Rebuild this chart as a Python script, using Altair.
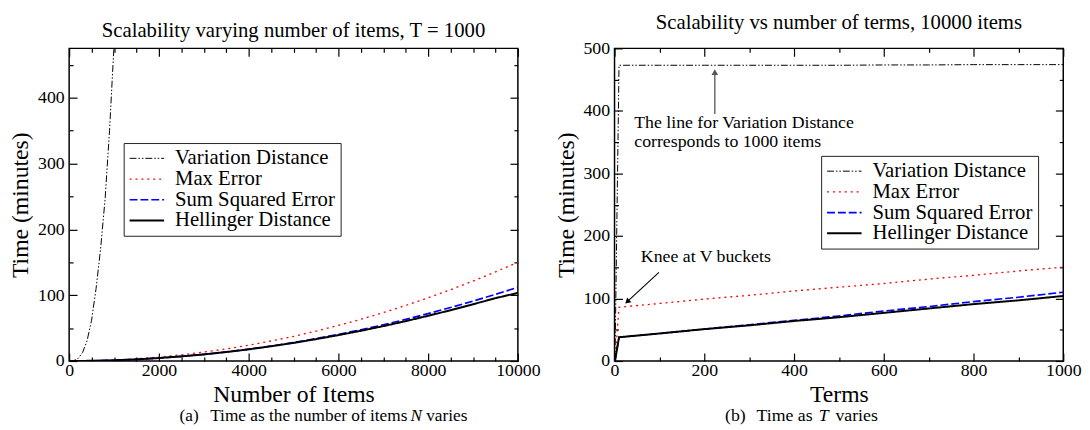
import altair as alt
import pandas as pd

FONT = "Liberation Serif"

SERIES = ["Variation Distance", "Max Error", "Sum Squared Error", "Hellinger Distance"]
SERIES_COLORS = ["#000000", "#ff0000", "#0000ff", "#000000"]
SERIES_DASHES = [[7, 2, 1.5, 2, 1.5, 2], [2, 4], [8, 3], [1, 0]]
SERIES_WIDTHS = [1.0, 2.0, 2.0, 1.2]

# ---------- panel (a): time vs number of items, T = 1000 ----------
items_n = [0, 500, 1000, 1500, 2000, 2500, 3000, 3500, 4000, 4500, 5000,
           5500, 6000, 6500, 7000, 7500, 8000, 8500, 9000, 9500, 10000]
max_err_a = [0, 0.4, 1.5, 3.4, 6.0, 9.4, 13.5, 18.4, 24.0, 30.4, 37.5,
             45.4, 54.0, 63.4, 73.5, 84.4, 96.0, 108.4, 121.5, 135.4, 150.0]
sse_a = [0, 0.3, 1.1, 2.5, 4.5, 7.0, 10.1, 13.8, 18.0, 22.8, 28.1,
         34.0, 40.4, 47.5, 55.0, 63.2, 72.0, 81.2, 91.0, 101.3, 112.0]
hell_a = [0, 0.3, 1.1, 2.5, 4.5, 7.0, 10.0, 13.6, 17.7, 22.4, 27.5,
          33.2, 39.3, 45.9, 53.0, 60.6, 68.7, 77.2, 86.2, 95.5, 103.5]
vd_items_n = [0, 100, 200, 300, 400, 500, 600, 700, 800, 900, 1000]
vd_a = [0, 0.5, 4, 13, 31, 62, 110, 170, 245, 350, 480]

# ---------- panel (b): time vs number of terms, 10000 items ----------
terms_t = [1, 10, 100, 200, 300, 400, 500, 600, 700, 800, 900, 1000]
vd_b = [0, 473, 473, 473, 473, 473, 473, 473.5, 473.5, 474, 474, 474]
max_err_b = [0, 86, 92, 99, 105, 112, 118, 124, 131, 137, 144, 150]
sse_b = [0, 38, 44, 51, 58, 65, 72, 80, 87, 95, 102, 110]
hell_b = [0, 38, 44, 51, 57, 64, 70, 77, 84, 91, 97, 104]

# tick values
a_x_major = [0, 2000, 4000, 6000, 8000, 10000]
a_x_minor = [500, 1000, 1500, 2500, 3000, 3500, 4500, 5000, 5500,
             6500, 7000, 7500, 8500, 9000, 9500]
a_y_major = [0, 100, 200, 300, 400]
a_y_minor = [50, 150, 250, 350, 450]
b_x_major = [0, 200, 400, 600, 800, 1000]
b_x_minor = [100, 300, 500, 700, 900]
b_y_major = [0, 100, 200, 300, 400, 500]
b_y_minor = [50, 150, 250, 350, 450]


def long_df(pairs):
    rows = []
    for name, xs, ys in pairs:
        for xv, yv in zip(xs, ys):
            rows.append({"x": xv, "y": yv, "series": name})
    return pd.DataFrame(rows)


df_a = long_df([
    ("Variation Distance", vd_items_n, vd_a),
    ("Max Error", items_n, max_err_a),
    ("Sum Squared Error", items_n, sse_a),
    ("Hellinger Distance", items_n, hell_a),
])
df_b = long_df([
    ("Variation Distance", terms_t, vd_b),
    ("Max Error", terms_t, max_err_b),
    ("Sum Squared Error", terms_t, sse_b),
    ("Hellinger Distance", terms_t, hell_b),
])


def tick_axis(orient, vals, size):
    return alt.Axis(orient=orient, values=vals, ticks=True, tickSize=size,
                    offset=-size, tickColor="black", tickWidth=1.2,
                    labels=False, domain=False, grid=False, title=None)


def text_layer(text, x, y, align="left", style="normal", size=18):
    return alt.Chart(pd.DataFrame({"t": [text]})).mark_text(
        font=FONT, fontSize=size, fontStyle=style, align=align,
        baseline="alphabetic", color="black"
    ).encode(text="t:N", x=alt.value(x), y=alt.value(y))


def panel(df, xdom, ydom, xmaj, xmin, ymaj, ymin, xtitle, title, leg_xy, extras):
    xs = alt.Scale(domain=xdom, nice=False, zero=False)
    ys = alt.Scale(domain=ydom, nice=False, zero=False)
    legend = alt.Legend(
        orient="none", legendX=leg_xy[0], legendY=leg_xy[1], title=None,
        symbolType="M-2,0H2", symbolSize=306, symbolStrokeWidth=1.3,
        symbolOffset=8, labelOffset=18, labelFont=FONT, labelFontSize=21,
        labelColor="black", rowPadding=-4, padding=5,
        strokeColor="#222222", fillColor="white", labelLimit=400,
    )
    lines = alt.Chart(df).mark_line(clip=True).encode(
        x=alt.X("x:Q", scale=xs, axis=alt.Axis(
            orient="bottom", values=xmaj, ticks=False, domain=False, grid=False,
            labelFont=FONT, labelFontSize=18, labelColor="black", labelPadding=1,
            labelFlush=False, labelOverlap=False, format="d",
            title=xtitle, titleFont=FONT, titleFontSize=24, titleFontWeight="normal",
            titleColor="black", titleY=41, titleBaseline="alphabetic")),
        y=alt.Y("y:Q", scale=ys, axis=alt.Axis(
            orient="left", values=ymaj, ticks=False, domain=False, grid=False,
            labelFont=FONT, labelFontSize=18, labelColor="black", labelPadding=5,
            labelOverlap=False, format="d",
            title="Time (minutes)", titleFont=FONT, titleFontSize=24,
            titleFontWeight="normal", titleColor="black", titleX=-42,
            titleBaseline="alphabetic")),
        color=alt.Color("series:N", scale=alt.Scale(domain=SERIES, range=SERIES_COLORS),
                        legend=legend),
        strokeDash=alt.StrokeDash("series:N", scale=alt.Scale(domain=SERIES, range=SERIES_DASHES),
                                  legend=legend),
        strokeWidth=alt.StrokeWidth("series:N", scale=alt.Scale(domain=SERIES, range=SERIES_WIDTHS),
                                    legend=None),
    )
    tick_layers = []
    for xo, yo, xv, yv, sz in [("bottom", "left", xmaj, ymaj, 8),
                               ("bottom", "left", xmin, ymin, 4),
                               ("top", "right", xmaj, ymaj, 8),
                               ("top", "right", xmin, ymin, 4)]:
        tick_layers.append(
            alt.Chart(df).mark_point(opacity=0, clip=True).encode(
                x=alt.X("x:Q", scale=xs, axis=tick_axis(xo, xv, sz)),
                y=alt.Y("y:Q", scale=ys, axis=tick_axis(yo, yv, sz)),
            )
        )
    return alt.layer(lines, *tick_layers, *extras).resolve_axis(
        x="independent", y="independent"
    ).properties(
        width=455, height=317,
        title=alt.TitleParams(text=title, font=FONT, fontSize=21, fontWeight="normal",
                              color="black", anchor="middle", frame="group", offset=7),
    )


# annotations for panel (b), in data coordinates
ann_text_t = [44, 44]
ann_text_v = [372, 343]
ann_text = ["The line for Variation Distance", "corresponds to 1000 items"]
ann_df = pd.DataFrame({"x": ann_text_t, "y": ann_text_v, "t": ann_text})

arrow1 = pd.DataFrame({"x": [223.5], "y": [395], "y2": [462]})
arrow1_head = pd.DataFrame({"x": [223.5], "y": [462]})
knee_df = pd.DataFrame({"x": [58.7], "y": [157.7], "t": ["Knee at V buckets"]})
arrow2 = pd.DataFrame({"x": [99], "y": [141.6], "x2": [26], "y2": [93.5]})
arrow2_head = pd.DataFrame({"x": [28.4], "y": [94.8]})

xs_b = alt.Scale(domain=[0, 1000], nice=False, zero=False)
ys_b = alt.Scale(domain=[0, 500], nice=False, zero=False)

CAP_Y = 378

b_extras = [
    alt.Chart(ann_df).mark_text(font=FONT, fontSize=18, align="left",
                                baseline="alphabetic", color="black").encode(
        x=alt.X("x:Q", scale=xs_b, axis=None), y=alt.Y("y:Q", scale=ys_b, axis=None), text="t:N"),
    alt.Chart(arrow1).mark_rule(color="#555555", strokeWidth=1.3).encode(
        x=alt.X("x:Q", scale=xs_b, axis=None), y=alt.Y("y:Q", scale=ys_b, axis=None), y2="y2:Q"),
    alt.Chart(arrow1_head).mark_point(shape="triangle-up", filled=True, size=45,
                                      color="#555555", opacity=1).encode(
        x=alt.X("x:Q", scale=xs_b, axis=None), y=alt.Y("y:Q", scale=ys_b, axis=None)),
    alt.Chart(knee_df).mark_text(font=FONT, fontSize=18, align="left",
                                 baseline="alphabetic", color="black").encode(
        x=alt.X("x:Q", scale=xs_b, axis=None), y=alt.Y("y:Q", scale=ys_b, axis=None), text="t:N"),
    alt.Chart(arrow2).mark_rule(color="black", strokeWidth=1.1).encode(
        x=alt.X("x:Q", scale=xs_b, axis=None), y=alt.Y("y:Q", scale=ys_b, axis=None),
        x2="x2:Q", y2="y2:Q"),
    alt.Chart(arrow2_head).mark_point(shape="triangle-up", filled=True, size=40,
                                      color="black", opacity=1, angle=227).encode(
        x=alt.X("x:Q", scale=xs_b, axis=None), y=alt.Y("y:Q", scale=ys_b, axis=None)),
    text_layer("(b)", 112, CAP_Y),
    text_layer("Time as", 144, CAP_Y),
    text_layer("T", 207, CAP_Y, style="italic"),
    text_layer("varies", 224, CAP_Y),
]

a_extras = [
    text_layer("(a)", 112, CAP_Y, size=17.5),
    text_layer("Time as the number of items", 343, CAP_Y, align="right", size=17.5),
    text_layer("N", 346, CAP_Y, style="italic", size=17.5),
    text_layer("varies", 362, CAP_Y, size=17.5),
]

left = panel(df_a, [0, 10000], [0, 475], a_x_major, a_x_minor, a_y_major, a_y_minor,
             "Number of Items", "Scalability varying number of items, T = 1000",
             (55.3, 96), a_extras)
right = panel(df_b, [0, 1000], [0, 500], b_x_major, b_x_minor, b_y_major, b_y_minor,
              "Terms", "Scalability vs number of terms, 10000 items",
              (209.5, 109), b_extras)

chart = alt.hconcat(left, right, spacing=12).resolve_scale(
    x="independent", y="independent", color="independent",
    strokeDash="independent", strokeWidth="independent"
).configure_view(stroke="black", strokeWidth=1.5).properties(
    padding={"left": 0, "top": 0, "right": 0, "bottom": 0}, background="white"
)

chart.save("out.html", embed_options={"renderer": "svg", "actions": False})
